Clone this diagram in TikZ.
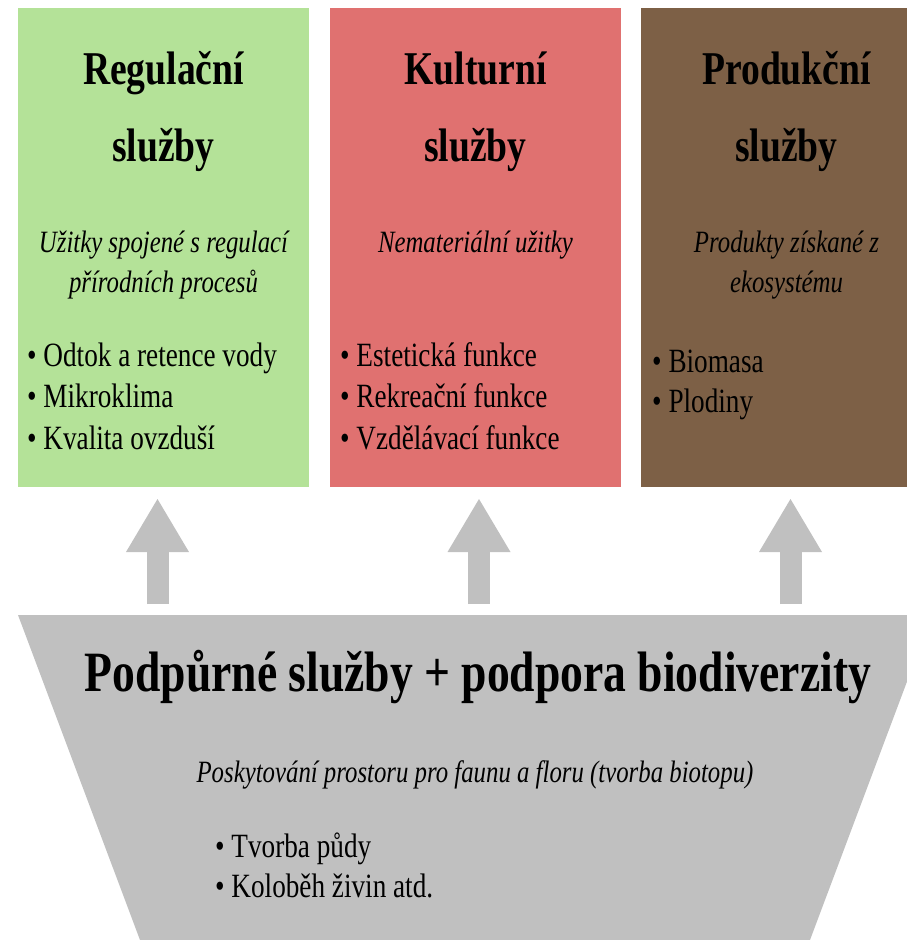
\documentclass[tikz,border=0pt]{standalone}
\usepackage{fontspec}
\setmainfont{Liberation Serif}[FakeStretch=0.8]
\usetikzlibrary{arrows.meta}

\definecolor{regfill}{RGB}{180,226,152}
\definecolor{kulfill}{RGB}{224,113,112}
\definecolor{prodfill}{RGB}{125,96,70}
\definecolor{basefill}{RGB}{192,192,192}
\definecolor{arrowgray}{RGB}{192,192,192}

\begin{document}
\begin{tikzpicture}[x=1pt,y=-1pt,
  panel/.style={draw=none, minimum width=291pt, minimum height=479pt, inner sep=0pt, outer sep=0pt},
  heading/.style={anchor=base, inner sep=0pt, font=\fontsize{47}{50}\selectfont\bfseries},
  subhead/.style={anchor=base, inner sep=0pt, font=\fontsize{31}{34}\selectfont\itshape},
  item/.style={anchor=base west, inner sep=0pt, font=\fontsize{34}{37}\selectfont},
  bigheading/.style={anchor=base, inner sep=0pt, font=\fontsize{57}{60}\selectfont\bfseries},
  uparrow/.style={line width=22pt, draw=arrowgray, -{Triangle[width=63pt,length=53pt,line width=0pt]}},
]
\useasboundingbox (0,0) rectangle (907,940);
\clip (0,0) rectangle (907,940);

% three service panels
\node[panel, fill=regfill]  (reg)  at (163.5,247.5) {};
\node[panel, fill=kulfill]  (kul)  at (475.5,247.5) {};
\node[panel, fill=prodfill] (prod) at (786.5,247.5) {};

% regulating services
\node[heading] (regT1) at (163.5,84)  {Regulační};
\node[heading] (regT2) at (163.5,161) {služby};
\node[subhead] (regS1) at (163.5,252) {Užitky spojené s regulací};
\node[subhead] (regS2) at (163.5,292) {přírodních procesů};
\node[item] (regI1) at (27,366) {• Odtok a retence vody};
\node[item] (regI2) at (27,407) {• Mikroklima};
\node[item] (regI3) at (27,449) {• Kvalita ovzduší};

% cultural services
\node[heading] (kulT1) at (475.5,84)  {Kulturní};
\node[heading] (kulT2) at (475.5,161) {služby};
\node[subhead] (kulS1) at (475.5,252) {Nemateriální užitky};
\node[item] (kulI1) at (340,366) {• Estetická funkce};
\node[item] (kulI2) at (340,407) {• Rekreační funkce};
\node[item] (kulI3) at (340,449) {• Vzdělávací funkce};

% provisioning services
\node[heading] (prodT1) at (786.5,84)  {Produkční};
\node[heading] (prodT2) at (786.5,161) {služby};
\node[subhead] (prodS1) at (786.5,252) {Produkty získané z};
\node[subhead] (prodS2) at (786.5,292) {ekosystému};
\node[item] (prodI1) at (652,372) {• Biomasa};
\node[item] (prodI2) at (652,412) {• Plodiny};

% supporting services base
\fill[basefill] (18,615) -- (932,615) -- (810,940) -- (140,940) -- cycle;
\node[bigheading] (baseT) at (478,691) {Podpůrné služby + podpora biodiverzity};
\node[subhead] (baseS) at (475,782) {Poskytování prostoru pro faunu a floru (tvorba biotopu)};
\node[item] (baseI1) at (215,857) {• Tvorba půdy};
\node[item] (baseI2) at (215,897) {• Koloběh živin atd.};

% arrows from the base up to the panels
\coordinate (a1s) at (157.5,604); \coordinate (a1e) at (157.5,499);
\coordinate (a2s) at (479,604);   \coordinate (a2e) at (479,499);
\coordinate (a3s) at (790.5,604); \coordinate (a3e) at (790.5,499);
\draw[uparrow] (a1s) -- (a1e);
\draw[uparrow] (a2s) -- (a2e);
\draw[uparrow] (a3s) -- (a3e);
\end{tikzpicture}
\end{document}
